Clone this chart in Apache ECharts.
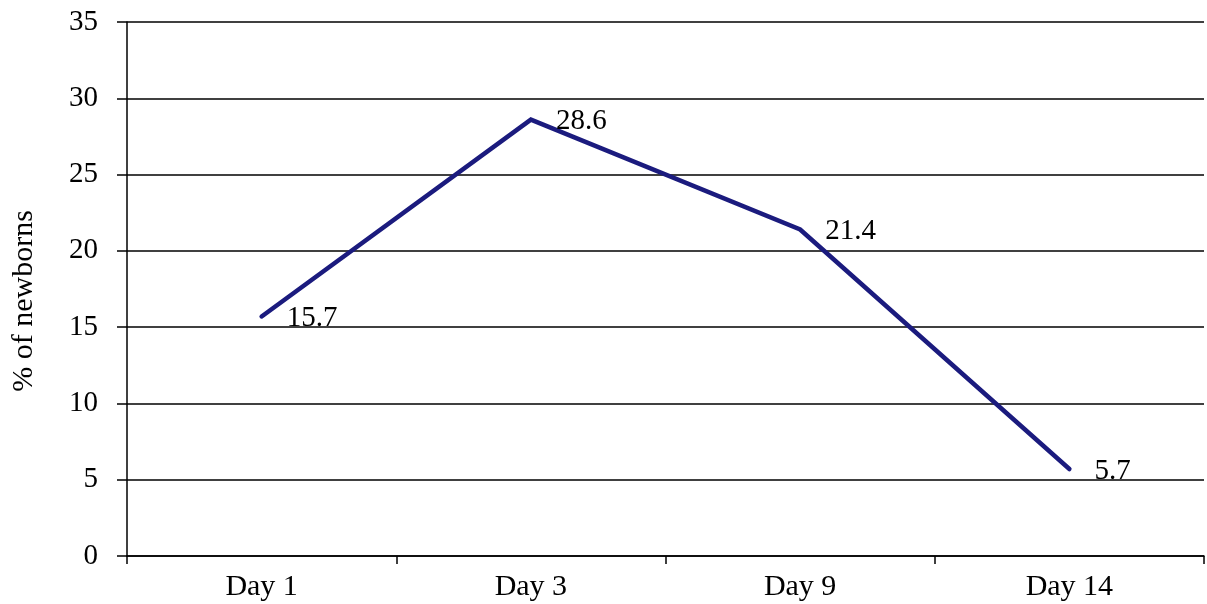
<!DOCTYPE html>
<html>
<head>
<meta charset="utf-8">
<script src="https://cdn.jsdelivr.net/npm/echarts@6/dist/echarts.min.js"></script>
<style>
  html, body { margin: 0; padding: 0; background: #fff; }
  #chart { width: 1207px; height: 604px; }
</style>
</head>
<body>
<div id="chart"></div>
<script>
// Share of newborns by day of follow-up
const days = ['Day 1', 'Day 3', 'Day 9', 'Day 14'];
const percentNewborns = [15.7, 28.6, 21.4, 5.7];
const yAxisTitle = '% of newborns';

const serif = '"Liberation Serif", "DejaVu Serif", serif';
const navy = '#1b1b7e';
const chart = echarts.init(document.getElementById('chart'), null, { renderer: 'canvas' });

chart.setOption({
  backgroundColor: '#ffffff',
  animation: false,
  grid: { left: 127, right: 3, top: 22, bottom: 48, containLabel: false, outerBoundsMode: 'none' },
  xAxis: {
    type: 'category',
    data: days,
    boundaryGap: true,
    axisLine: { show: true, lineStyle: { color: '#000', width: 1.5 } },
    axisTick: { show: true, length: 8, lineStyle: { color: '#000', width: 1.5 } },
    axisLabel: { color: '#000', fontFamily: serif, fontSize: 30, margin: 16 },
    splitLine: { show: false }
  },
  yAxis: {
    type: 'value',
    min: 0,
    max: 35,
    interval: 5,
    name: yAxisTitle,
    nameLocation: 'middle',
    nameGap: 88,
    nameRotate: 90,
    nameTextStyle: { color: '#000', fontFamily: serif, fontSize: 30, padding: [0, 24, 0, 0] },
    axisLine: { show: true, lineStyle: { color: '#000', width: 1.5 } },
    axisTick: { show: true, length: 10, lineStyle: { color: '#000', width: 1.5 } },
    axisLabel: { color: '#000', fontFamily: serif, fontSize: 29, margin: 29 },
    splitLine: { show: true, lineStyle: { color: '#000', width: 1.5 } }
  },
  series: [{
    type: 'line',
    data: percentNewborns,
    showSymbol: true,
    symbol: 'circle',
    symbolSize: 2,
    lineStyle: { color: navy, width: 4.5, cap: 'round', join: 'miter' },
    itemStyle: { color: navy },
    label: {
      show: true,
      position: 'right',
      distance: 24,
      offset: [0, 2],
      color: '#000',
      fontFamily: serif,
      fontSize: 29
    },
    emphasis: { disabled: true }
  }]
});
</script>
</body>
</html>
